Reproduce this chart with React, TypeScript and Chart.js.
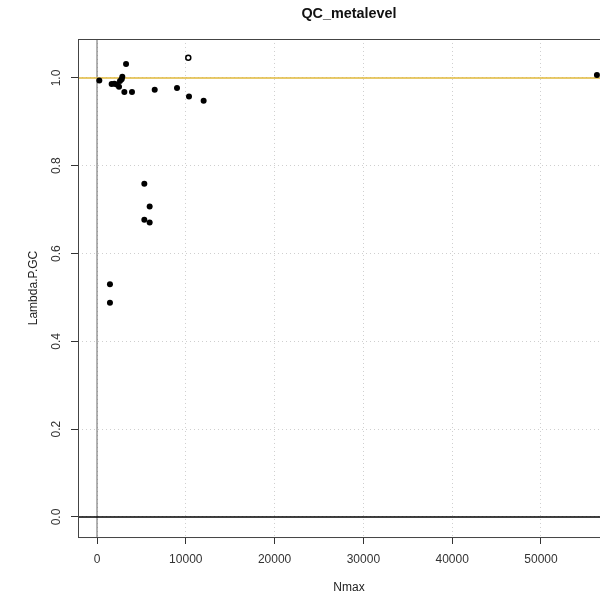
import React, { useEffect, useRef } from "react";
import { Chart, registerables } from "chart.js";

Chart.register(...registerables);

// ---- data ----
const nmax = [260, 3270, 2850, 1650, 1950, 2220, 2480, 2590, 2780, 3080, 3940, 6500, 9010, 10360, 12010, 5330, 5930, 5330, 5930, 1460, 1460, 56300];
const lambdaGC = [0.994, 1.032, 1.003, 0.986, 0.987, 0.985, 0.980, 0.993, 0.997, 0.968, 0.968, 0.973, 0.977, 0.958, 0.948, 0.759, 0.707, 0.677, 0.671, 0.530, 0.488, 1.007];
const openNmax = [10280];
const openLambda = [1.046];

const xTicks = [0, 10000, 20000, 30000, 40000, 50000];
const yTicks = [0, 0.2, 0.4, 0.6, 0.8, 1.0];

const X_MIN = -2140;
const X_MAX = 58900;
const Y_MIN = -0.0456;
const Y_MAX = 1.0888;

const REF_H1 = 1;
const REF_H0 = 0;
const REF_V0 = 0;

const TITLE = "QC_metalevel";
const X_LABEL = "Nmax";
const Y_LABEL = "Lambda.P.GC";

const FONT = "'Liberation Sans', Arial, sans-serif";

export default function App() {
  const ref = useRef<HTMLCanvasElement | null>(null);

  useEffect(() => {
    if (!ref.current) return;
    Chart.defaults.font.family = FONT;

    const boxPlugin = {
      id: "rbox",
      afterDraw(chart: any) {
        const { ctx, chartArea } = chart;
        ctx.save();
        ctx.strokeStyle = "#444";
        ctx.lineWidth = 1;
        ctx.strokeRect(
          Math.round(chartArea.left) + 0.5,
          Math.round(chartArea.top) + 0.5,
          chartArea.right - chartArea.left,
          chartArea.bottom - chartArea.top
        );
        ctx.restore();
      },
    };

    const chart = new Chart(ref.current, {
      type: "scatter",
      data: {
        datasets: [
          {
            label: "points",
            data: nmax.map((x, i) => ({ x, y: lambdaGC[i] })),
            backgroundColor: "#000",
            borderColor: "#000",
            pointRadius: 3,
            borderWidth: 0,
          } as any,
          {
            label: "open",
            data: openNmax.map((x, i) => ({ x, y: openLambda[i] })),
            backgroundColor: "#fff",
            borderColor: "#000",
            pointRadius: 2.5,
            borderWidth: 1.5,
          },
          {
            type: "line",
            label: "h1",
            data: [{ x: X_MIN, y: REF_H1 }, { x: X_MAX, y: REF_H1 }],
            borderColor: "#e0b83a",
            borderWidth: 1.5,
            pointRadius: 0,
          } as any,
          {
            type: "line",
            label: "h0",
            data: [{ x: X_MIN, y: REF_H0 }, { x: X_MAX, y: REF_H0 }],
            borderColor: "#000",
            borderWidth: 1.5,
            pointRadius: 0,
          } as any,
          {
            type: "line",
            label: "v0",
            data: [{ x: REF_V0, y: Y_MIN }, { x: REF_V0, y: Y_MAX }],
            borderColor: "#666",
            borderWidth: 1,
            pointRadius: 0,
          } as any,
        ],
      },
      options: {
        animation: false,
        responsive: false,
        devicePixelRatio: 1,
        layout: { padding: { left: 0, right: 20, top: 0, bottom: 0 } },
        plugins: {
          legend: { display: false },
          tooltip: { enabled: false },
          title: {
            display: true,
            text: TITLE,
            fullSize: false,
            color: "#111",
            font: { size: 14.4, weight: "bold", family: FONT },
            padding: { top: 5.4, bottom: 16.3 },
          },
        },
        scales: {
          x: {
            type: "linear",
            min: X_MIN,
            max: X_MAX,
            afterBuildTicks: (s: any) => {
              s.ticks = xTicks.map((v) => ({ value: v }));
            },
            afterFit: (s: any) => {
              s.height = 60;
            },
            ticks: {
              color: "#333",
              font: { size: 12, family: FONT },
              padding: 8,
              maxRotation: 0,
              autoSkip: false,
              callback: (v: any) => String(v),
            },
            grid: {
              color: "#cfcfcf",
              lineWidth: 1,
              tickLength: 7,
              tickColor: "#333",
              tickWidth: 1,
            },
            border: { display: false, dash: [1, 3] },
            title: {
              display: true,
              text: X_LABEL,
              color: "#222",
              font: { size: 12, family: FONT },
              padding: { top: 0, bottom: 2.4 },
            },
          },
          y: {
            type: "linear",
            min: Y_MIN,
            max: Y_MAX,
            afterBuildTicks: (s: any) => {
              s.ticks = yTicks.map((v) => ({ value: v }));
            },
            afterFit: (s: any) => {
              s.width = 78;
            },
            ticks: {
              color: "#333",
              font: { size: 12, family: FONT },
              padding: 5.7,
              minRotation: 90,
              maxRotation: 90,
              crossAlign: "center",
              autoSkip: false,
              callback: (v: any) => Number(v).toFixed(1),
            },
            grid: {
              color: "#cfcfcf",
              lineWidth: 1,
              tickLength: 7,
              tickColor: "#333",
              tickWidth: 1,
            },
            border: { display: false, dash: [1, 3] },
            title: {
              display: true,
              text: Y_LABEL,
              color: "#222",
              font: { size: 12, family: FONT },
              padding: { top: 26.4, bottom: 0 },
            },
          },
        },
      } as any,
      plugins: [boxPlugin],
    });
    return () => chart.destroy();
  }, []);

  return (
    <div
      style={{
        position: "fixed",
        left: 0,
        top: 0,
        width: 600,
        height: 597,
        overflow: "hidden",
        background: "#fff",
      }}
    >
      <canvas ref={ref} width={640} height={597} style={{ width: 640, height: 597, display: "block" }} />
    </div>
  );
}
